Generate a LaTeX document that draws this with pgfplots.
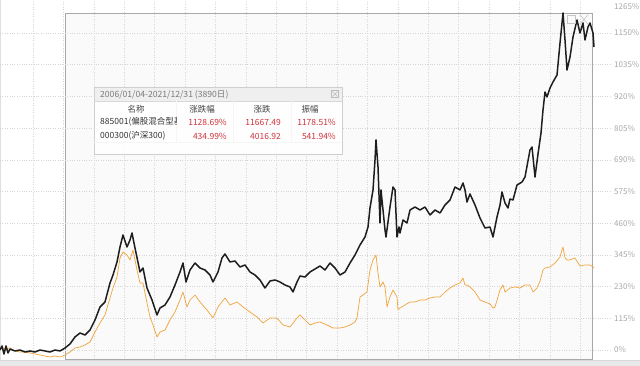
\documentclass[border=0pt]{standalone}
\usepackage{fontspec}
\setmainfont{Noto Sans CJK SC}
\usepackage{pgfplots}
\usepackage{pgfplotstable}
\pgfplotsset{compat=1.18}
\definecolor{fundc}{HTML}{1E1E1E}
\definecolor{idxc}{HTML}{F2A33A}
\definecolor{gridc}{HTML}{D6D6D6}
\definecolor{tickc}{HTML}{A8A8A8}
\definecolor{redv}{HTML}{D0343C}
\definecolor{selfill}{HTML}{FAFAFA}
\definecolor{selbord}{HTML}{A8A8A8}
\definecolor{bandc}{HTML}{E8E8E8}
\definecolor{bandl}{HTML}{D8D8D8}
\definecolor{edgec}{HTML}{E0E0E0}
\definecolor{iconc}{HTML}{C4C4C4}
\definecolor{titlefill}{HTML}{EFEFEF}
\definecolor{boxbord}{HTML}{CFCFCF}
\definecolor{sepc}{HTML}{F5F5F5}
\definecolor{closec}{HTML}{BDBDBD}
\definecolor{titletext}{HTML}{7A7A7A}
\definecolor{headtext}{HTML}{444444}
\definecolor{nametext}{HTML}{333333}

\pgfplotstableread{
x y
0 0
2 14.5
4 -14.5
6 14.5
8 -10.9
10 3.6
15 -3.6
20 0
25 -7.3
30 -3.6
35 -7.3
40 0
45 -3.6
50 -7.3
55 0
60 -3.6
65 7.3
70 21.8
75 47.2
80 61.7
85 54.4
90 72.6
95 108.8
100 156.0
105 174.1
110 243.1
113 272.1
117 319.3
120 373.7
123 417.2
127 373.7
130 399.1
132 424.5
135 370.1
140 283.0
143 297.5
147 224.9
152 181.4
157 127.0
160 152.4
165 163.3
170 192.3
175 235.8
180 283.0
183 315.6
186 246.7
190 290.2
195 315.6
200 297.5
205 290.2
210 272.1
213 246.7
218 283.0
222 333.8
225 348.3
230 319.3
235 322.9
240 301.1
245 308.4
250 283.0
255 272.1
260 254.0
265 224.9
270 250.3
275 254.0
280 246.7
285 235.8
290 228.6
293 210.4
297 246.7
300 268.5
305 264.8
310 283.0
315 293.9
320 304.8
325 290.2
330 315.6
335 297.5
340 272.1
345 283.0
350 315.6
355 344.7
360 380.9
365 410.0
368 446.2
370 515.2
373 580.5
375 689.3
376 761.9
378 663.9
380 460.8
381 580.5
383 507.9
385 435.4
386 410.0
390 518.8
393 591.4
395 580.5
397 410.0
399 446.2
400 424.5
403 471.6
407 460.8
410 507.9
415 518.8
420 507.9
425 518.8
430 489.8
435 507.9
440 497.0
445 526.1
450 544.2
455 591.4
460 580.5
463 605.9
465 580.5
467 536.9
470 566.0
475 526.1
480 478.9
485 442.6
490 446.2
493 410.0
497 482.5
500 526.1
502 573.2
505 533.3
508 515.2
510 547.8
513 544.2
517 598.6
522 609.5
525 627.6
530 725.6
532 736.5
535 627.6
538 711.1
541 787.3
543 870.7
545 936.0
547 917.9
550 950.5
553 972.3
557 997.7
560 1113.8
562 1186.4
563 1222.6
565 1124.7
567 1015.8
570 1063.0
573 1135.6
577 1197.2
580 1150.1
583 1186.4
585 1124.7
588 1171.8
590 1186.4
593 1150.1
594 1099.3
}\fundtable

\pgfplotstableread{
x y
0 10.9
5 3.6
10 7.3
15 -3.6
20 -7.3
25 -7.3
30 -10.9
35 -14.5
40 -18.1
45 -21.8
50 -25.4
55 -21.8
60 -25.4
65 -18.1
70 -7.3
75 7.3
80 10.9
85 18.1
90 29.0
95 65.3
100 98.0
105 127.0
110 188.7
113 224.9
117 264.8
120 333.8
123 355.5
127 344.7
130 326.5
133 362.8
137 290.2
140 243.1
143 243.1
147 170.5
150 119.7
153 90.7
157 47.2
160 65.3
165 72.6
170 108.8
175 137.9
180 181.4
183 210.4
187 156.0
190 181.4
195 199.5
200 174.1
207 145.1
213 116.1
218 156.0
225 188.7
230 163.3
237 174.1
243 156.0
250 137.9
257 119.7
263 98.0
270 116.1
277 116.1
283 90.7
290 83.4
297 116.1
300 127.0
305 108.8
310 90.7
315 98.0
320 101.6
327 90.7
333 79.8
340 79.8
345 83.4
350 90.7
355 101.6
357 116.1
360 192.3
363 199.5
367 210.4
370 290.2
373 326.5
376 344.7
378 279.4
380 228.6
383 246.7
385 228.6
387 156.0
390 192.3
393 217.7
397 192.3
398 145.1
400 152.4
405 163.3
410 174.1
415 174.1
420 181.4
425 181.4
430 188.7
435 192.3
440 192.3
445 210.4
450 224.9
455 235.8
460 243.1
463 261.2
465 235.8
467 235.8
470 228.6
475 210.4
480 181.4
485 174.1
490 166.9
493 152.4
495 156.0
500 217.7
503 235.8
505 210.4
510 224.9
515 228.6
520 224.9
525 235.8
530 235.8
533 210.4
537 224.9
540 250.3
543 290.2
545 297.5
550 301.1
555 315.6
560 337.4
562 362.8
563 373.7
565 333.8
567 326.5
570 326.5
575 333.8
578 315.6
580 304.8
585 308.4
590 308.4
593 301.1
594 297.5
}\idxtable

\begin{document}
\begin{tikzpicture}
\useasboundingbox (0pt,0pt) rectangle (640pt,366pt);
\begin{scope}[x=1pt,y=-1pt,shift={(0pt,366pt)}]
  \fill[white] (0,0) rectangle (640,366);
  \fill[selfill] (65,13) rectangle (592,359);
  \draw[selbord, line width=0.8pt] (65,13) rectangle (592,359);
  \fill[bandc] (0,360) rectangle (640,366);
  \draw[bandl, line width=0.6pt] (0,360) -- (640,360);
  \draw[edgec, line width=1pt] (0.5,0) -- (0.5,360);
\end{scope}

\begin{axis}[
  at={(0pt,6pt)}, anchor=south west,
  scale only axis, width=612pt, height=360pt,
  xmin=0, xmax=612, ymin=-36.3, ymax=1269.8,
  clip=true,
  axis line style={draw=none},
  tick style={draw=none},
  major tick length=0pt,
  xtick={33,63.4,...,581}, xticklabels={},
  ytick={0,115,230,345,460,575,690,805,920,1035,1150},
  yticklabels={0\%,115\%,230\%,345\%,460\%,575\%,690\%,805\%,920\%,1035\%,1150\%},
  yticklabel pos=right,
  yticklabel style={anchor=west, inner sep=0pt, xshift=2pt, text=tickc, font=\fontsize{8}{9}\selectfont},
  grid=major,
  major grid style={gridc, dotted, line width=0.6pt},
]
\addplot[idxc, line width=0.7pt, line join=round] table[x=x,y=y] {\idxtable};
\addplot[fundc, line width=1.5pt, line join=round] table[x=x,y=y] {\fundtable};
\end{axis}

\begin{scope}[x=1pt,y=-1pt,shift={(0pt,366pt)}]
  \node[anchor=west, inner sep=0pt, text=tickc, font=\fontsize{8}{9}\selectfont] at (614,7) {1265\%};
  \draw[iconc, line width=0.6pt] (567,15) rectangle (575,23);
  \draw[iconc, line width=0.6pt] (580,15) -- (588,24) (588,15) -- (580,24);
  \fill[white, opacity=0.92] (94,87) rectangle (342,154);
  \fill[titlefill] (94,87) rectangle (342,101);
  \draw[boxbord, line width=0.6pt] (94,87) rectangle (342,154);
  \draw[bandl, line width=0.5pt] (94,101) -- (342,101);
  \draw[sepc, line width=0.4pt] (176,101) -- (176,142) (233,101) -- (233,142) (291,101) -- (291,142);
  \draw[sepc, line width=0.4pt] (94,142) -- (342,142);
  \draw[closec, line width=0.5pt] (331.5,90.5) rectangle (338.5,97.5);
  \draw[closec, line width=0.4pt] (332.5,91.5) -- (337.5,96.5) (337.5,91.5) -- (332.5,96.5);
  \node[anchor=west, inner sep=0pt, text=titletext, font=\fontsize{8.6}{9}\selectfont] at (100,95) {2006/01/04-2021/12/31 (3890日)};
  \begin{scope}[font=\fontsize{8.5}{9}\selectfont]
    \node[inner sep=0pt, text=headtext] at (136,109) {名称};
    \node[inner sep=0pt, text=headtext] at (202,109) {涨跌幅};
    \node[inner sep=0pt, text=headtext] at (262,109) {涨跌};
    \node[inner sep=0pt, text=headtext] at (310,109) {振幅};
    \begin{scope}
      \clip (98,113) rectangle (176,143);
      \node[anchor=west, inner sep=0pt, text=nametext] at (100,122) {885001(偏股混合型基};
    \end{scope}
    \node[anchor=west, inner sep=0pt, text=nametext] at (100,136) {000300(沪深300)};
    \node[anchor=east, inner sep=0pt, text=redv] at (227,122) {1128.69\%};
    \node[anchor=east, inner sep=0pt, text=redv] at (281,122) {11667.49};
    \node[anchor=east, inner sep=0pt, text=redv] at (336,122) {1178.51\%};
    \node[anchor=east, inner sep=0pt, text=redv] at (227,136) {434.99\%};
    \node[anchor=east, inner sep=0pt, text=redv] at (281,136) {4016.92};
    \node[anchor=east, inner sep=0pt, text=redv] at (336,136) {541.94\%};
  \end{scope}
\end{scope}
\end{tikzpicture}
\end{document}
